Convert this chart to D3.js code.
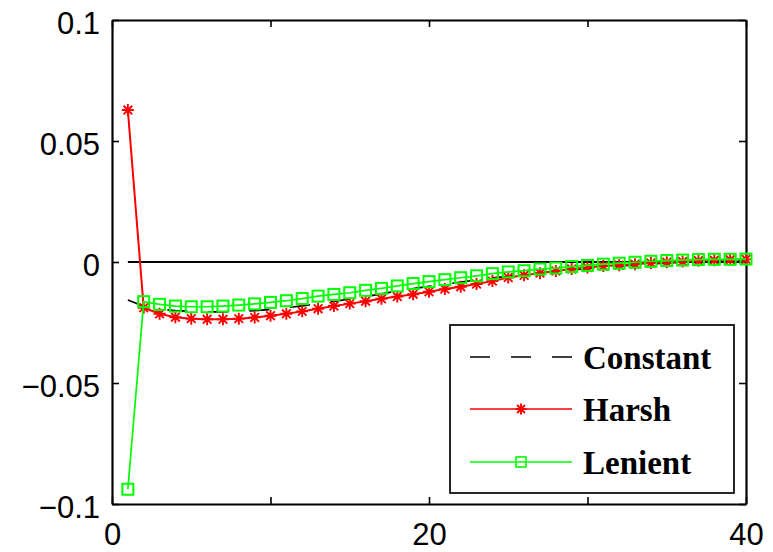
<head>
	<style>
	body { margin: 0; background-color: white; }
	.tick-label { font: 31px "Liberation Sans", Arial, sans-serif; fill: black; }
	.legend-label { font: bold 33px "Liberation Serif", "Times New Roman", serif; fill: black; }
	</style>
</head>
<body>
	<svg width="773" height="552"></svg>
	<script src="https://d3js.org/d3.v7.min.js"></script>
	<script>

	// periods 1..40
	var periods = d3.range(1, 41);

	var constantVals = [-0.0157, -0.0183, -0.0195, -0.0201, -0.0204, -0.0206, -0.0206, -0.0204, -0.0201, -0.0196,
	                    -0.0189, -0.0181, -0.0172, -0.0163, -0.0153, -0.0143, -0.0132, -0.0120, -0.0110, -0.0101,
	                    -0.0092, -0.0083, -0.0074, -0.0066, -0.0059, -0.0052, -0.0045, -0.0039, -0.0033, -0.0027,
	                    -0.0022, -0.0017, -0.0012, -0.0008, -0.0004, -0.0001, 0.0002, 0.0005, 0.0007, 0.0009];

	var harshVals = [0.0628, -0.0189, -0.0214, -0.0228, -0.0234, -0.0237, -0.0237, -0.0234, -0.0229, -0.0222,
	                 -0.0214, -0.0204, -0.0193, -0.0182, -0.0172, -0.0162, -0.0152, -0.0143, -0.0133, -0.0123,
	                 -0.0112, -0.0102, -0.0091, -0.0079, -0.0064, -0.0055, -0.0046, -0.0037, -0.0029, -0.0023,
	                 -0.0017, -0.0013, -0.0009, -0.0004, -0.0001, 0.0002, 0.0005, 0.0007, 0.0009, 0.0011];

	var lenientVals = [-0.0939, -0.0164, -0.0175, -0.0182, -0.0185, -0.0185, -0.0182, -0.0178, -0.0173, -0.0167,
	                   -0.0160, -0.0151, -0.0141, -0.0134, -0.0127, -0.0117, -0.0109, -0.0099, -0.0089, -0.0081,
	                   -0.0073, -0.0065, -0.0057, -0.0048, -0.0041, -0.0036, -0.0029, -0.0025, -0.0019, -0.0014,
	                   -0.0009, -0.0005, -0.0001, 0.0003, 0.0006, 0.0008, 0.0010, 0.0011, 0.0011, 0.0012];

	var zeroVals = periods.map(function() { return 0; });

	var xTicks = [0, 10, 20, 30, 40];
	var xTickLabels = ["0", "", "20", "", "40"];
	var yTicks = [0.1, 0.05, 0, -0.05, -0.1];
	var yTickLabels = ["0.1", "0.05", "0", "\u22120.05", "\u22120.1"];

	var legendNames = ["Constant", "Harsh", "Lenient"];

	var svg = d3.select("svg"),
	    plotLeft = 112, plotRight = 746, plotTop = 20, plotBottom = 504;

	var x = d3.scaleLinear().domain([0, 40]).range([plotLeft, plotRight]);
	var y = d3.scaleLinear().domain([-0.1, 0.1]).range([plotBottom, plotTop]);

	var line = d3.line()
	    .x(function(d, i) { return x(periods[i]); })
	    .y(function(d) { return y(d); });

	// axes (MATLAB box with inward ticks)
	var bottomAxis = d3.axisBottom(x).tickValues(xTicks).tickSizeInner(-7).tickSizeOuter(0)
	    .tickFormat(function(d, i) { return xTickLabels[i]; });
	var topAxis = d3.axisTop(x).tickValues(xTicks).tickSizeInner(-7).tickSizeOuter(0).tickFormat("");
	var leftAxis = d3.axisLeft(y).tickValues(yTicks).tickSizeInner(-7).tickSizeOuter(0)
	    .tickFormat(function(d, i) { return yTickLabels[i]; });
	var rightAxis = d3.axisRight(y).tickValues(yTicks).tickSizeInner(-7).tickSizeOuter(0).tickFormat("");

	function styleAxis(g) {
	  g.select(".domain").attr("stroke", "black").attr("stroke-width", 2.2);
	  g.selectAll(".tick line").attr("stroke", "black").attr("stroke-width", 1.6);
	  g.selectAll(".tick text").attr("class", "tick-label").attr("font-size", null).attr("font-family", null);
	  g.attr("font-size", null).attr("font-family", null);
	}

	svg.append("g").attr("transform", "translate(0," + plotBottom + ")").call(bottomAxis).call(styleAxis)
	  .selectAll(".tick text").attr("y", 41).attr("dy", 0);
	svg.append("g").attr("transform", "translate(0," + plotTop + ")").call(topAxis).call(styleAxis);
	svg.append("g").attr("transform", "translate(" + plotLeft + ",0)").call(leftAxis).call(styleAxis)
	  .selectAll(".tick text").attr("x", -12).attr("dy", "0.42em");
	svg.append("g").attr("transform", "translate(" + plotRight + ",0)").call(rightAxis).call(styleAxis);

	// zero line
	svg.append("path").datum(zeroVals)
	    .attr("d", line).attr("fill", "none").attr("stroke", "black").attr("stroke-width", 2);

	// constant (dashed)
	svg.append("path").datum(constantVals)
	    .attr("d", line).attr("fill", "none").attr("stroke", "black")
	    .attr("stroke-width", 1.7).attr("stroke-dasharray", "20,21");

	// harsh
	svg.append("path").datum(harshVals)
	    .attr("d", line).attr("fill", "none").attr("stroke", "#ff0000").attr("stroke-width", 2);

	function star(g, size) {
	  var r = size / 2, d = r * 0.72;
	  g.append("path")
	    .attr("d", "M" + (-r) + ",0H" + r + "M0," + (-r) + "V" + r +
	               "M" + (-d) + "," + (-d) + "L" + d + "," + d +
	               "M" + (-d) + "," + d + "L" + d + "," + (-d))
	    .attr("stroke", "#ff0000").attr("stroke-width", 1.9).attr("fill", "none");
	}

	svg.selectAll(".star").data(harshVals).enter().append("g")
	    .attr("class", "star")
	    .attr("transform", function(d, i) { return "translate(" + x(periods[i]) + "," + y(d) + ")"; })
	    .each(function() { star(d3.select(this), 12); });

	// lenient
	svg.append("path").datum(lenientVals)
	    .attr("d", line).attr("fill", "none").attr("stroke", "#00ff00").attr("stroke-width", 1.7);

	svg.selectAll(".sq").data(lenientVals).enter().append("rect")
	    .attr("class", "sq")
	    .attr("x", function(d, i) { return x(periods[i]) - 5.5; })
	    .attr("y", function(d) { return y(d) - 5.5; })
	    .attr("width", 11).attr("height", 11)
	    .attr("fill", "none").attr("stroke", "#00ff00").attr("stroke-width", 2);

	// legend
	var lg = svg.append("g").attr("transform", "translate(450,325)");
	lg.append("rect").attr("width", 284).attr("height", 168)
	    .attr("fill", "white").attr("stroke", "black").attr("stroke-width", 1.7);

	var rowY = [32, 84, 137];
	var rows = lg.selectAll(".row").data(legendNames).enter().append("g")
	    .attr("class", "row")
	    .attr("transform", function(d, i) { return "translate(0," + rowY[i] + ")"; });

	rows.append("line").attr("x1", 20).attr("x2", 122).attr("y1", 0).attr("y2", 0)
	    .attr("stroke", function(d, i) { return ["black", "#ff0000", "#00ff00"][i]; })
	    .attr("stroke-width", 1.6)
	    .attr("stroke-dasharray", function(d, i) { return i === 0 ? "20,21" : null; });

	star(rows.filter(function(d, i) { return i === 1; }).append("g").attr("transform", "translate(71,0)"), 11);
	rows.filter(function(d, i) { return i === 2; }).append("rect")
	    .attr("x", 66).attr("y", -5).attr("width", 10).attr("height", 10)
	    .attr("fill", "none").attr("stroke", "#00ff00").attr("stroke-width", 1.6);

	rows.append("text").attr("class", "legend-label")
	    .attr("x", 133).attr("y", 12)
	    .text(function(d) { return d; });

	</script>
</body>
